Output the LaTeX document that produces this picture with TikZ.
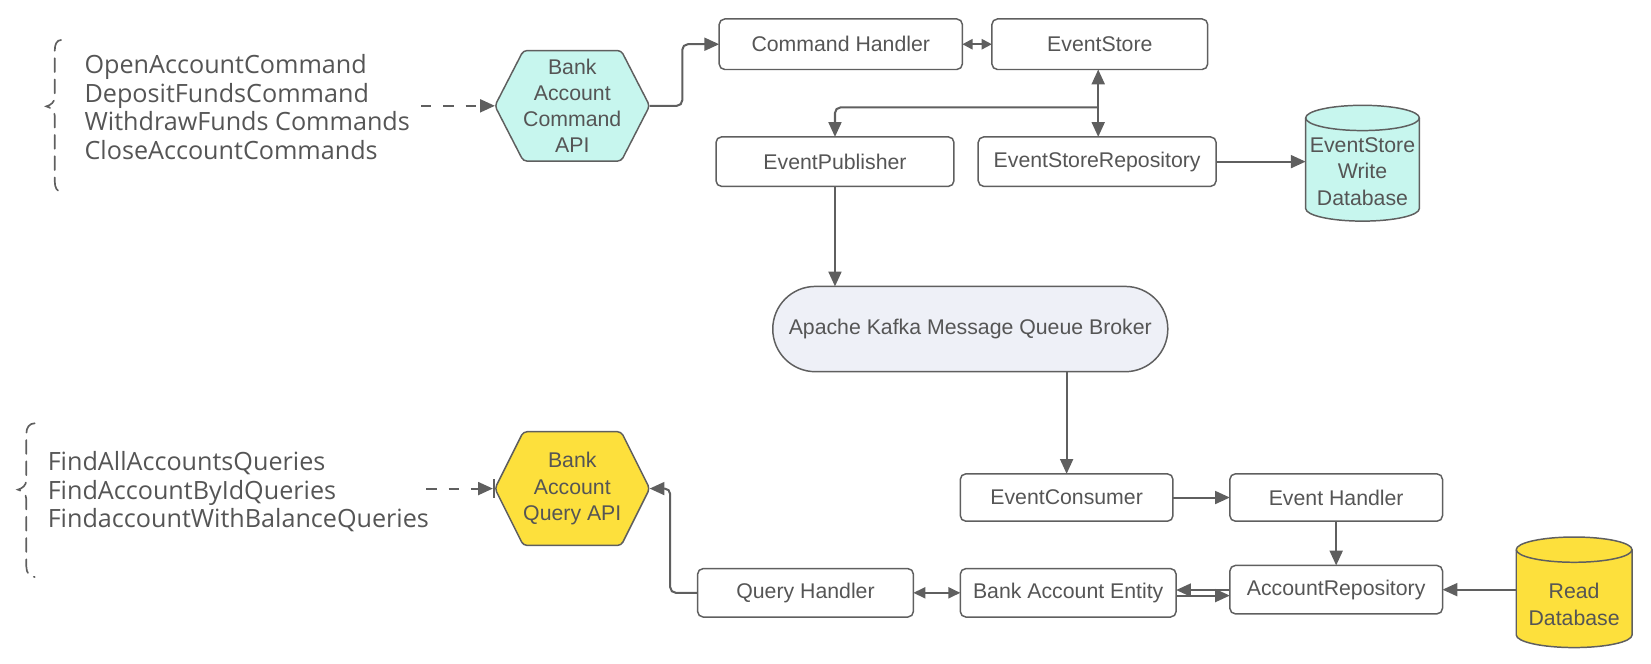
\documentclass[tikz,border=0pt]{standalone}
\usepackage{fontspec}
\setmainfont{Liberation Sans}
\newfontfamily\listfont{Open Sans}
\usetikzlibrary{arrows.meta,shapes.misc,backgrounds}
\definecolor{linegray}{RGB}{95,95,95}
\definecolor{textgray}{RGB}{85,85,85}
\definecolor{cmdcyan}{RGB}{199,246,238}
\definecolor{queryyellow}{RGB}{253,224,60}
\definecolor{kafkablue}{RGB}{238,240,247}

\begin{document}
\begin{tikzpicture}[x=0.02cm, y=-0.02cm,
  font=\fontsize{11.5}{14.2}\selectfont, text=textgray,
  >={Triangle[length=8pt,width=7pt]},
  box/.style={draw=linegray, line width=0.8pt, rounded corners=3pt, minimum height=0.94cm, inner sep=2pt, outer sep=0pt},
  hexnode/.style={minimum width=2.94cm, minimum height=2.1cm, inner sep=0pt, outer sep=0pt, align=center},
  dbnode/.style={minimum width=2.16cm, inner sep=0pt, outer sep=0pt, align=center},
  shapeline/.style={draw=linegray, line width=0.8pt},
  arrow/.style={draw=linegray, line width=1.1pt, ->},
  dblarrow/.style={draw=linegray, line width=1.1pt, <->},
  dasharrow/.style={arrow, dash pattern=on 5.5pt off 6.5pt},
  listtext/.style={font=\listfont\fontsize{13.6}{15.4}\selectfont, align=left, anchor=west, inner sep=0pt},
  brace/.style={draw=linegray, line width=0.9pt, dash pattern=on 7.5pt off 4pt, line cap=round}]
\useasboundingbox (0,0) rectangle (1568,630.6);

% command side
\node[listtext] (cmdlist) at (80,101.5) {OpenAccountCommand\\DepositFundsCommand\\WithdrawFunds Commands\\CloseAccountCommands};
\draw[brace] (58,38) .. controls (54,38) and (52,42) .. (52,48) -- (52,92)
  .. controls (52,97) and (48,100) .. (44,101) .. controls (48,102) and (52,105) .. (52,110)
  -- (52,172) .. controls (52,178) and (54,182) .. (58,182);
\node[hexnode] (cmdapi) at (543.5,100.5) {Bank\\Account\\Command\\API};
\node[box, minimum width=4.62cm, minimum height=0.96cm] (cmdhandler) at (798.5,42) {Command Handler};
\node[box, minimum width=4.1cm, minimum height=0.96cm] (eventstore) at (1044.5,42) {EventStore};
\node[box, minimum width=4.52cm] (publisher) at (793,153.5) {EventPublisher};
\node[box, minimum width=4.52cm] (storerepo) at (1042,153.5) {EventStoreRepository};
\node[dbnode] (writedb) at (1294,163) {EventStore\\Write\\Database};

% broker
\node[shapeline, fill=kafkablue, rounded rectangle, minimum width=7.74cm, minimum height=1.62cm, outer sep=0pt] (kafka) at (921.5,312.5) {Apache Kafka Message Queue Broker};

% query side
\node[listtext] (querylist) at (45,467) {FindAllAccountsQueries\\FindAccountByIdQueries\\FindaccountWithBalanceQueries};
\draw[brace] (33,402) .. controls (28,402) and (25,406) .. (25,412) -- (25,456)
  .. controls (25,461) and (21,464) .. (17,465) .. controls (21,466) and (25,469) .. (25,474)
  -- (25,538) .. controls (25,544) and (28,548) .. (33,548);
\node[hexnode, minimum height=2.16cm] (queryapi) at (543.5,464) {Bank\\Account\\Query API};
\node[box, minimum width=4.04cm, minimum height=0.9cm] (consumer) at (1013,472.5) {EventConsumer};
\node[box, minimum width=4.04cm, minimum height=0.9cm] (evhandler) at (1269,472.5) {Event Handler};
\node[box, minimum width=4.04cm, minimum height=0.92cm] (accrepo) at (1269,560) {AccountRepository};
\node[box, minimum width=4.1cm, minimum height=0.92cm] (entity) at (1014.5,563) {Bank Account Entity};
\node[box, minimum width=4.1cm, minimum height=0.92cm] (queryhandler) at (765,563) {Query Handler};
\node[dbnode, minimum width=2.2cm] (readdb) at (1495,574) {Read\\Database};

\begin{scope}[on background layer]
\draw[shapeline, fill=cmdcyan, rounded corners=2pt] (cmdapi.west) -- ([xshift=0.54cm]cmdapi.north west)
  -- ([xshift=-0.54cm]cmdapi.north east) -- (cmdapi.east) -- ([xshift=-0.54cm]cmdapi.south east)
  -- ([xshift=0.54cm]cmdapi.south west) -- cycle;
\draw[shapeline, fill=queryyellow, rounded corners=2pt] (queryapi.west) -- ([xshift=0.54cm]queryapi.north west)
  -- ([xshift=-0.54cm]queryapi.north east) -- (queryapi.east) -- ([xshift=-0.54cm]queryapi.south east)
  -- ([xshift=0.54cm]queryapi.south west) -- cycle;
% database cylinders
\draw[shapeline, fill=cmdcyan] (1240,112) -- (1240,198) arc (180:0:54 and 12) -- (1348,112) arc (0:-180:54 and 12) -- cycle;
\draw[shapeline] (1348,112) arc (0:180:54 and 12);
\draw[shapeline, fill=queryyellow] (1440,522) -- (1440,603) arc (180:0:55 and 12) -- (1550,522) arc (0:-180:55 and 12) -- cycle;
\draw[shapeline] (1550,522) arc (0:180:55 and 12);
\end{scope}

% connectors
\coordinate (cmdsrc) at (400,100.5);
\coordinate (querysrc) at (405,464);
\coordinate (split) at (1043,102);
\draw[dasharrow] (cmdsrc) -- (cmdapi.west);
\draw[arrow, rounded corners=3pt] (cmdapi.east) -- ++(31,0) |- (cmdhandler.west);
\draw[dblarrow, >={Triangle[length=5.5pt,width=5.5pt]}] (cmdhandler) -- (eventstore);
\draw[arrow] (split) -- (split |- eventstore.south);
\draw[arrow] (split) -- (split |- storerepo.north);
\draw[arrow, rounded corners=3pt] (split) -| (publisher.north);
\draw[arrow] (storerepo.east) -- (writedb.west |- storerepo.east);
\draw[arrow] (publisher.south) -- (publisher.south |- kafka.north);
\draw[arrow] (consumer.north |- kafka.south) -- (consumer.north);
\draw[arrow] (consumer.east) -- (evhandler.west);
\draw[arrow] (evhandler) -- (accrepo);
\draw[arrow] (readdb.west |- accrepo.east) -- (accrepo.east);
\draw[arrow] ([yshift=-1.5pt]entity.east) -- ([yshift=-1.5pt]entity.east -| accrepo.west);
\draw[arrow] ([yshift=1.5pt]entity.east -| accrepo.west) -- ([yshift=1.5pt]entity.east);
\draw[dblarrow, >={Triangle[length=6.5pt,width=6pt]}] (queryhandler) -- (entity);
\draw[arrow, rounded corners=3pt] (queryhandler.west) -- ++(-26,0) |- (queryapi.east);
\draw[dasharrow, -{Triangle[length=8pt,width=7pt] Bar[width=10pt]}] (querysrc) -- (queryapi.west);
\end{tikzpicture}
\end{document}
